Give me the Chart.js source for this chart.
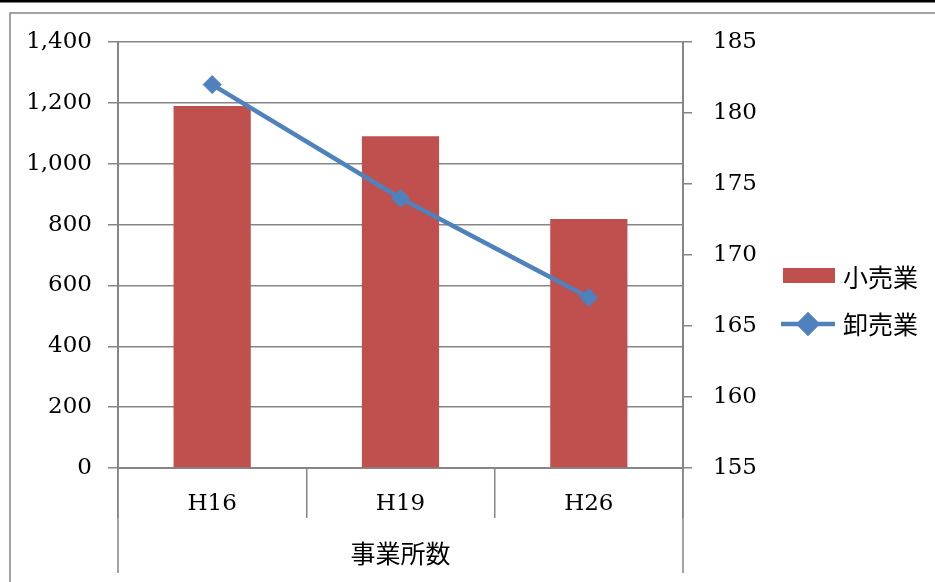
<!DOCTYPE html>
<html lang="ja">
<head>
<meta charset="utf-8">
<script src="https://cdn.jsdelivr.net/npm/chart.js@4.4.1/dist/chart.umd.min.js"></script>
<style>
  html, body { margin: 0; padding: 0; background: #fff; }
  canvas { display: block; }
</style>
</head>
<body>
<canvas id="chart" width="935" height="582"></canvas>
<script>
// data
var categories = ['H16', 'H19', 'H26'];
var groupLabel = '事業所数';
var retailLabel = '小売業';
var retailValues = [1190, 1090, 818];
var wholesaleLabel = '卸売業';
var wholesaleValues = [182, 174, 167];
var leftMin = 0, leftMax = 1400, leftStep = 200;
var rightMin = 155, rightMax = 185, rightStep = 5;

var red = '#C0504D';
var blue = '#4F81BD';
var grey = '#868686';
var numFont = { family: '"DejaVu Serif", serif', size: 23 };
var jpFont = { family: '"Noto Sans CJK JP", sans-serif', size: 25 };

var framePlugin = {
  id: 'frame',
  beforeDraw: function(chart) {
    var ctx = chart.ctx;
    ctx.save();
    ctx.fillStyle = '#fff';
    ctx.fillRect(0, 0, chart.width, chart.height);
    ctx.fillStyle = '#000';
    ctx.fillRect(0, 0, chart.width, 2.5);
    ctx.strokeStyle = grey;
    ctx.lineWidth = 1.5;
    ctx.beginPath();
    ctx.moveTo(10, chart.height);
    ctx.lineTo(10, 13);
    ctx.lineTo(chart.width, 13);
    ctx.stroke();
    ctx.restore();
  },
  afterDraw: function(chart) {
    var ctx = chart.ctx;
    var area = chart.chartArea;
    ctx.save();
    // outer edges of the category axis run down past the group label
    ctx.strokeStyle = grey;
    ctx.lineWidth = 1.5;
    ctx.beginPath();
    [area.left, area.right].forEach(function(x) {
      ctx.moveTo(x, area.bottom);
      ctx.lineTo(x, 573);
    });
    ctx.stroke();

    // legend
    var bar = chart.data.datasets[0];
    var line = chart.data.datasets[1];
    ctx.font = jpFont.size + 'px ' + jpFont.family;
    ctx.textBaseline = 'middle';
    ctx.textAlign = 'left';
    ctx.fillStyle = bar.backgroundColor;
    ctx.fillRect(783, 268, 52, 15);
    ctx.fillStyle = '#000';
    ctx.fillText(bar.label, 843, 277);

    ctx.strokeStyle = line.borderColor;
    ctx.lineWidth = line.borderWidth;
    ctx.beginPath();
    ctx.moveTo(781, 324);
    ctx.lineTo(835, 324);
    ctx.stroke();
    ctx.fillStyle = line.backgroundColor;
    Chart.helpers.drawPoint(ctx, { pointStyle: 'rectRot', radius: line.pointRadius, borderWidth: 1 }, 808, 324);
    ctx.fill();
    ctx.fillStyle = '#000';
    ctx.fillText(line.label, 843, 324);
    ctx.restore();
  }
};

var ctx = document.getElementById('chart').getContext('2d');
new Chart(ctx, {
  type: 'bar',
  data: {
    labels: categories,
    datasets: [
      {
        label: retailLabel,
        data: retailValues,
        backgroundColor: red,
        yAxisID: 'y',
        barPercentage: 0.41,
        categoryPercentage: 1,
        order: 2
      },
      {
        type: 'line',
        label: wholesaleLabel,
        data: wholesaleValues,
        yAxisID: 'y1',
        borderColor: blue,
        backgroundColor: blue,
        borderWidth: 4.5,
        pointStyle: 'rectRot',
        pointRadius: 9,
        pointBorderWidth: 1,
        order: 1
      }
    ]
  },
  options: {
    responsive: false,
    animation: false,
    layout: { padding: { top: 42, left: 0, right: 0, bottom: 0 } },
    plugins: {
      legend: { display: false },
      tooltip: { enabled: false }
    },
    scales: {
      x: {
        offset: true,
        grid: { offset: true, drawOnChartArea: false, tickLength: 50, color: grey, lineWidth: 1.5 },
        border: { color: grey, width: 2 },
        ticks: { color: '#000', font: numFont, padding: -28 },
        title: { display: true, text: groupLabel, color: '#000', font: jpFont, padding: { top: 0, bottom: 14 } },
        afterFit: function(s) { s.height = 114; }
      },
      y: {
        position: 'left',
        min: leftMin,
        max: leftMax,
        ticks: {
          stepSize: leftStep,
          padding: 16,
          color: '#000',
          font: numFont,
          callback: function(v) { return v.toLocaleString('en-US'); }
        },
        grid: { color: grey, lineWidth: 1.5, tickLength: 10 },
        border: { color: grey, width: 2 },
        afterFit: function(s) { s.width = 118; }
      },
      y1: {
        position: 'right',
        min: rightMin,
        max: rightMax,
        ticks: { stepSize: rightStep, padding: 21, color: '#000', font: numFont },
        grid: { drawOnChartArea: false, color: grey, lineWidth: 1.5, tickLength: 9 },
        border: { color: grey, width: 2 },
        afterFit: function(s) { s.width = 252; }
      }
    }
  },
  plugins: [framePlugin]
});
</script>
</body>
</html>
